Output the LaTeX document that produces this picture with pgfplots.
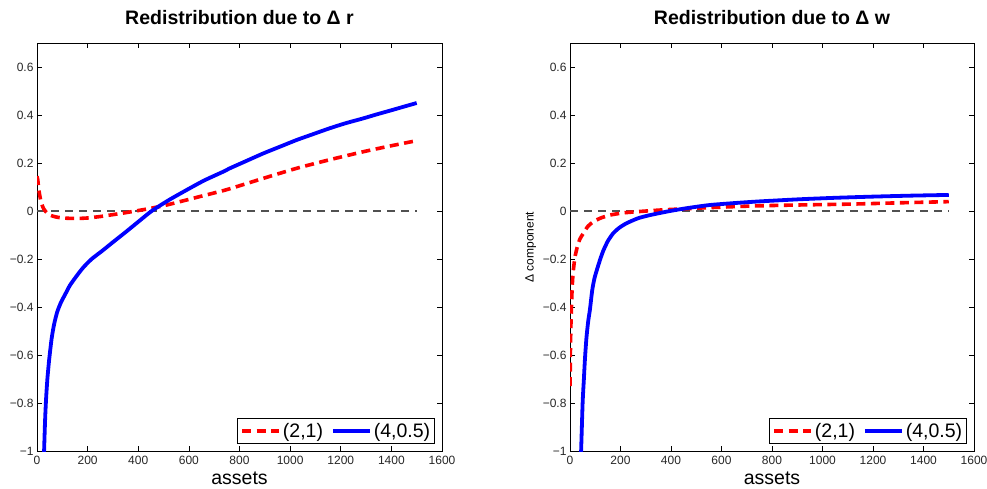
\documentclass[border=0pt]{standalone}
\usepackage{fontspec}
\setmainfont{Liberation Sans}
\usepackage{pgfplots}
\pgfplotsset{compat=1.18}
\definecolor{zline}{RGB}{80,80,80}
\pgfplotsset{
 mystyle/.style={
  scale only axis, width=405pt, height=408pt,
  xmin=0, xmax=1600, ymin=-1, ymax=0.7,
  xtick={0,200,400,600,800,1000,1200,1400,1600},
  xticklabels={0,200,400,600,800,1000,1200,1400,1600},
  ytick={-1,-0.8,-0.6,-0.4,-0.2,0,0.2,0.4,0.6},
  yticklabels={−1,−0.8,−0.6,−0.4,−0.2,0,0.2,0.4,0.6},
  tick label style={font=\fontsize{12}{14}\selectfont, text=black!85},
  xticklabel style={yshift=-2pt},
  major tick length=5pt,
  tick style={black, line width=0.7pt},
  axis line style={line width=0.9pt},
  title style={font=\fontsize{19.5}{22}\selectfont\bfseries, at={(axis description cs:0.5,1)}, anchor=base, yshift=13pt},
  xlabel style={font=\fontsize{19.5}{22}\selectfont, at={(axis description cs:0.5,0)}, anchor=base, yshift=-33pt},
  legend columns=2,
  legend style={at={(axis description cs:0.983,0.017)}, anchor=south east, draw=black, line width=0.8pt,
    font=\fontsize{19.5}{22}\selectfont, inner xsep=2.5pt, inner ysep=3pt,
    /tikz/every even column/.append style={column sep=6pt}},
  legend image code/.code={\draw[#1] (0pt,0pt) -- (37pt,0pt);},
  redl/.style={color=red, line width=3.6pt, dash pattern=on 9pt off 5.5pt, smooth, tension=0.4},
  bluel/.style={color=blue, line width=3.8pt, smooth, tension=0.4},
  zl/.style={color=zline, line width=1.2pt, dash pattern=on 8pt off 6pt},
 }
}
\begin{document}
\begin{tikzpicture}
\useasboundingbox (0,0) rectangle (987pt,-488pt);
\begin{axis}[mystyle, at={(37pt,-451pt)}, anchor=south west,
  title={Redistribution due to Δ r}, xlabel={assets}]
\addplot[zl, forget plot] coordinates {(0,0) (1500,0)};
\addplot[redl] coordinates {
(0,0.145) (3,0.13) (6,0.10) (10,0.07) (14,0.048) (18,0.032) (25,0.012) (35,-0.003)
(51,-0.017) (80,-0.026) (117,-0.030) (160,-0.031) (200,-0.029) (250,-0.023) (288,-0.017)
(350,-0.007) (433,0.008) (500,0.022) (565,0.039) (650,0.062) (736,0.085) (775,0.097)
(900,0.138) (1026,0.178) (1150,0.212) (1289,0.247) (1400,0.272) (1500,0.293)};
\addlegendentry{(2,1)}
\addplot[bluel] coordinates {
(25,-1.12) (28,-1.0) (32,-0.87) (36,-0.78) (41,-0.70) (48,-0.62) (58,-0.53) (68,-0.47)
(80,-0.42) (95,-0.38) (110,-0.35) (130,-0.31) (157,-0.27) (183,-0.235) (216,-0.20) (260,-0.164)
(301,-0.129) (350,-0.088) (400,-0.045) (453,0.0) (520,0.045) (591,0.0875) (660,0.127)
(736,0.164) (762,0.178) (830,0.21) (894,0.24) (960,0.268) (1026,0.296) (1090,0.32)
(1157,0.345) (1220,0.366) (1289,0.386) (1340,0.402) (1394,0.418) (1450,0.435) (1500,0.450)};
\addlegendentry{(4,0.5)}
\end{axis}
\begin{axis}[mystyle, width=404pt, at={(570pt,-451pt)}, anchor=south west,
  title={Redistribution due to Δ w}, xlabel={assets},
  ylabel={Δ component},
  ylabel style={font=\fontsize{12}{14}\selectfont, at={(axis description cs:-0.097,0.5)}, anchor=center}]
\addplot[zl, forget plot] coordinates {(0,0) (1500,0)};
\addplot[redl] coordinates {
(0,-0.73) (1,-0.65) (2,-0.56) (3.5,-0.48) (5,-0.42) (7,-0.36) (10,-0.29) (14,-0.24)
(20,-0.19) (30,-0.145) (40,-0.115) (53,-0.093) (70,-0.065) (92,-0.045) (120,-0.03)
(158,-0.017) (210,-0.008) (264,-0.003) (356,0.004) (450,0.009) (550,0.014) (726,0.021)
(900,0.025) (1122,0.029) (1300,0.034) (1500,0.039)};
\addlegendentry{(2,1)}
\addplot[bluel] coordinates {
(40,-1.12) (44,-1.0) (50,-0.80) (55,-0.70) (59,-0.62) (65,-0.53) (72,-0.46) (79,-0.41)
(88,-0.33) (97,-0.28) (108,-0.24) (120,-0.20) (132,-0.165) (150,-0.125) (171,-0.093)
(195,-0.07) (224,-0.051) (270,-0.03) (317,-0.017) (396,0.0) (470,0.013) (554,0.025)
(650,0.033) (750,0.040) (911,0.049) (1050,0.055) (1201,0.060) (1350,0.064) (1500,0.067)};
\addlegendentry{(4,0.5)}
\end{axis}
\end{tikzpicture}
\end{document}
